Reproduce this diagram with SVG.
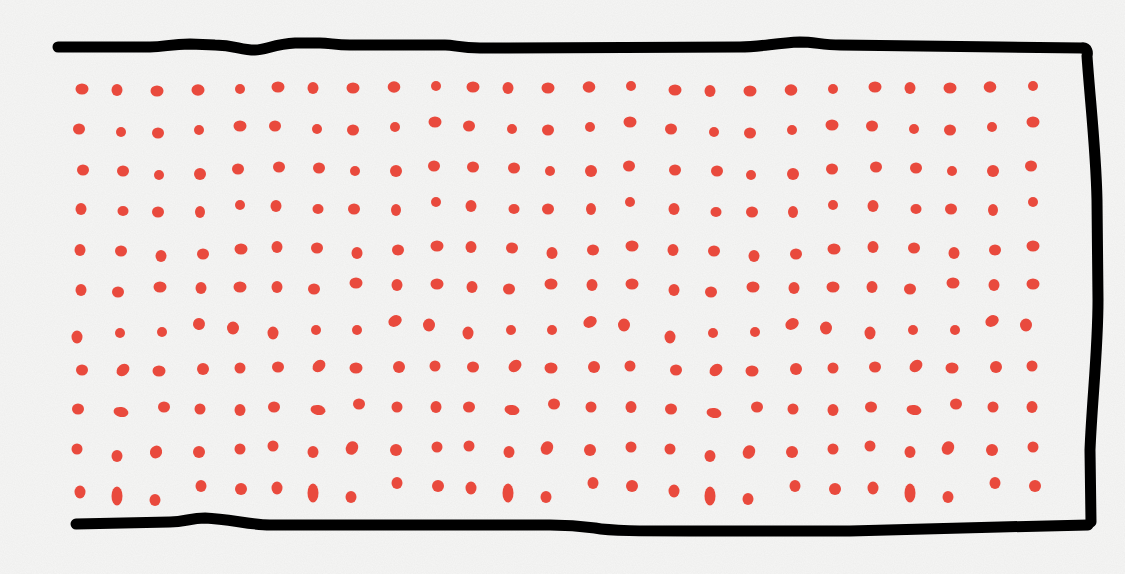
<svg xmlns="http://www.w3.org/2000/svg" width="1125" height="574" viewBox="0 0 1125 574">
<style>
.bg{fill:#f6f6f5}
.ln{fill:none;stroke:#000;stroke-width:11;stroke-linecap:round;stroke-linejoin:round}
.d{fill:#e94a3d}
</style>
<defs>
<filter id="paper" x="0" y="0" width="100%" height="100%">
<feTurbulence type="fractalNoise" baseFrequency="0.9" numOctaves="2" seed="3" result="n"/>
<feColorMatrix type="matrix" values="0 0 0 0 0  0 0 0 0 0  0 0 0 0 0  0 0 0 0.035 0" in="n"/>
</filter>
</defs>
<rect class="bg" width="1125" height="574"/>
<rect width="1125" height="574" filter="url(#paper)"/>
<g id="frame">
<path class="ln" d="M58,47 L150,47 C165,47 170,44 190,44 L215,45 C235,45 240,50 255,50 C265,50 275,44 295,43 L320,43 C330,43 335,45 350,45 L445,45 C455,45 460,48 480,48 L740,47 C760,47 775,43 800,42 C815,42 822,45 840,45 L1000,47 L1083,48"/>
<path class="ln" d="M1083,48 C1087,48 1088,52 1087,56 C1090,100 1096,150 1097,200 L1098,300 C1098,350 1092,400 1090,450 L1091,522"/>
<path class="ln" d="M1088,525 L1000,527 C950,528 900,530 850,531 L690,531 C640,531 610,531 595,528 C580,526 570,525 550,525 L450,525 L270,525 C250,525 230,519 205,518 C190,518 185,522 170,522 L76,524"/>
</g>
<g id="dots">
<ellipse class="d" cx="82" cy="89" rx="6.5" ry="5.5"/><ellipse class="d" cx="117" cy="90" rx="5.5" ry="6"/><ellipse class="d" cx="157" cy="91" rx="6.5" ry="5.5"/><ellipse class="d" cx="198" cy="90" rx="6.5" ry="5.8"/><ellipse class="d" cx="240" cy="89" rx="5" ry="5"/><ellipse class="d" cx="278" cy="87" rx="6.5" ry="5.5"/><ellipse class="d" cx="313" cy="88" rx="5.5" ry="6"/><ellipse class="d" cx="353" cy="88" rx="6.5" ry="5.5"/><ellipse class="d" cx="394" cy="87" rx="6.3" ry="5.8"/><ellipse class="d" cx="436" cy="86" rx="5" ry="5"/><ellipse class="d" cx="473" cy="87" rx="6.5" ry="5.5"/><ellipse class="d" cx="508" cy="88" rx="5.5" ry="6"/><ellipse class="d" cx="548" cy="88" rx="6.5" ry="5.5"/><ellipse class="d" cx="589" cy="87" rx="6.3" ry="5.8"/><ellipse class="d" cx="631" cy="86" rx="5" ry="5"/><ellipse class="d" cx="675" cy="90" rx="6.5" ry="5.5"/><ellipse class="d" cx="710" cy="91" rx="5.5" ry="6"/><ellipse class="d" cx="750" cy="91" rx="6.5" ry="5.5"/><ellipse class="d" cx="791" cy="90" rx="6.3" ry="5.8"/><ellipse class="d" cx="833" cy="89" rx="5" ry="5"/><ellipse class="d" cx="875" cy="87" rx="6.5" ry="5.5"/><ellipse class="d" cx="910" cy="88" rx="5.5" ry="6"/><ellipse class="d" cx="950" cy="88" rx="6.5" ry="5.5"/><ellipse class="d" cx="990" cy="87" rx="6.3" ry="5.8"/><ellipse class="d" cx="1033" cy="86" rx="5" ry="5"/>
<ellipse class="d" cx="79" cy="129" rx="6" ry="5.5"/><ellipse class="d" cx="121" cy="132" rx="5" ry="5"/><ellipse class="d" cx="158" cy="133" rx="6" ry="5.5"/><ellipse class="d" cx="199" cy="130" rx="5" ry="5"/><ellipse class="d" cx="240" cy="126" rx="6.5" ry="5.5"/><ellipse class="d" cx="275" cy="126" rx="6" ry="5.5"/><ellipse class="d" cx="317" cy="129" rx="5" ry="5"/><ellipse class="d" cx="353" cy="130" rx="6" ry="5.5"/><ellipse class="d" cx="395" cy="127" rx="5" ry="5"/><ellipse class="d" cx="435" cy="122" rx="6.5" ry="5.5"/><ellipse class="d" cx="469" cy="126" rx="6" ry="5.5"/><ellipse class="d" cx="512" cy="129" rx="5" ry="5"/><ellipse class="d" cx="548" cy="130" rx="6" ry="5.5"/><ellipse class="d" cx="590" cy="127" rx="5" ry="5"/><ellipse class="d" cx="630" cy="122" rx="6.5" ry="5.5"/><ellipse class="d" cx="671" cy="129" rx="6" ry="5.5"/><ellipse class="d" cx="714" cy="132" rx="5" ry="5"/><ellipse class="d" cx="750" cy="133" rx="6" ry="5.5"/><ellipse class="d" cx="792" cy="130" rx="5" ry="5"/><ellipse class="d" cx="832" cy="125" rx="6.5" ry="5.5"/><ellipse class="d" cx="872" cy="126" rx="6" ry="5.5"/><ellipse class="d" cx="914" cy="129" rx="5" ry="5"/><ellipse class="d" cx="950" cy="130" rx="6" ry="5.5"/><ellipse class="d" cx="992" cy="127" rx="5" ry="5"/><ellipse class="d" cx="1033" cy="122" rx="6.5" ry="5.5"/>
<ellipse class="d" cx="83" cy="170" rx="6" ry="5.5"/><ellipse class="d" cx="123" cy="171" rx="6" ry="5.5"/><ellipse class="d" cx="159" cy="175" rx="5" ry="5"/><ellipse class="d" cx="200" cy="174" rx="6" ry="6"/><ellipse class="d" cx="238" cy="169" rx="6" ry="5.5"/><ellipse class="d" cx="279" cy="167" rx="6" ry="5.5"/><ellipse class="d" cx="319" cy="168" rx="6" ry="5.5"/><ellipse class="d" cx="355" cy="171" rx="5" ry="5"/><ellipse class="d" cx="396" cy="171" rx="6" ry="6"/><ellipse class="d" cx="434" cy="166" rx="6" ry="5.5"/><ellipse class="d" cx="473" cy="167" rx="6" ry="5.5"/><ellipse class="d" cx="514" cy="168" rx="6" ry="5.5"/><ellipse class="d" cx="550" cy="171" rx="5" ry="5"/><ellipse class="d" cx="591" cy="171" rx="6" ry="6"/><ellipse class="d" cx="629" cy="166" rx="6" ry="5.5"/><ellipse class="d" cx="675" cy="170" rx="6" ry="5.5"/><ellipse class="d" cx="717" cy="171" rx="6" ry="5.5"/><ellipse class="d" cx="751" cy="175" rx="5" ry="5"/><ellipse class="d" cx="793" cy="174" rx="6" ry="6"/><ellipse class="d" cx="832" cy="169" rx="6" ry="5.5"/><ellipse class="d" cx="876" cy="167" rx="6" ry="5.5"/><ellipse class="d" cx="916" cy="168" rx="6" ry="5.5"/><ellipse class="d" cx="952" cy="171" rx="5" ry="5"/><ellipse class="d" cx="993" cy="171" rx="6" ry="6"/><ellipse class="d" cx="1031" cy="166" rx="6" ry="5.5"/>
<ellipse class="d" cx="81" cy="209" rx="5.5" ry="6"/><ellipse class="d" cx="123" cy="211" rx="5.5" ry="5"/><ellipse class="d" cx="158" cy="212" rx="6" ry="5.5"/><ellipse class="d" cx="200" cy="212" rx="5" ry="6"/><ellipse class="d" cx="240" cy="205" rx="5" ry="5"/><ellipse class="d" cx="276" cy="206" rx="5.5" ry="6"/><ellipse class="d" cx="318" cy="209" rx="5.5" ry="5"/><ellipse class="d" cx="354" cy="209" rx="6" ry="5.5"/><ellipse class="d" cx="396" cy="210" rx="5" ry="6"/><ellipse class="d" cx="436" cy="202" rx="5" ry="5"/><ellipse class="d" cx="471" cy="206" rx="5.5" ry="6"/><ellipse class="d" cx="514" cy="209" rx="5.5" ry="5"/><ellipse class="d" cx="548" cy="209" rx="6" ry="5.5"/><ellipse class="d" cx="591" cy="209" rx="5" ry="6"/><ellipse class="d" cx="630" cy="202" rx="5" ry="5"/><ellipse class="d" cx="674" cy="209" rx="5.5" ry="6"/><ellipse class="d" cx="716" cy="212" rx="5.5" ry="5"/><ellipse class="d" cx="752" cy="212" rx="6" ry="5.5"/><ellipse class="d" cx="793" cy="212" rx="5" ry="6"/><ellipse class="d" cx="833" cy="205" rx="5" ry="5"/><ellipse class="d" cx="873" cy="206" rx="5.5" ry="6"/><ellipse class="d" cx="916" cy="209" rx="5.5" ry="5"/><ellipse class="d" cx="951" cy="209" rx="6" ry="5.5"/><ellipse class="d" cx="993" cy="210" rx="5" ry="6"/><ellipse class="d" cx="1033" cy="202" rx="5" ry="5"/>
<ellipse class="d" cx="80" cy="250" rx="5.5" ry="6"/><ellipse class="d" cx="121" cy="251" rx="6" ry="5.5"/><ellipse class="d" cx="161" cy="256" rx="5.5" ry="6"/><ellipse class="d" cx="203" cy="254" rx="6" ry="5.5"/><ellipse class="d" cx="241" cy="249" rx="6.5" ry="5.5"/><ellipse class="d" cx="277" cy="247" rx="5.5" ry="6"/><ellipse class="d" cx="317" cy="248" rx="6" ry="5.5"/><ellipse class="d" cx="357" cy="253" rx="5.5" ry="6"/><ellipse class="d" cx="398" cy="250" rx="6" ry="5.5"/><ellipse class="d" cx="437" cy="246" rx="6.5" ry="5.5"/><ellipse class="d" cx="471" cy="247" rx="5.5" ry="6"/><ellipse class="d" cx="512" cy="248" rx="6" ry="5.5"/><ellipse class="d" cx="552" cy="253" rx="5.5" ry="6"/><ellipse class="d" cx="593" cy="250" rx="6" ry="5.5"/><ellipse class="d" cx="632" cy="246" rx="6.5" ry="5.5"/><ellipse class="d" cx="673" cy="250" rx="5.5" ry="6"/><ellipse class="d" cx="714" cy="251" rx="6" ry="5.5"/><ellipse class="d" cx="754" cy="256" rx="5.5" ry="6"/><ellipse class="d" cx="796" cy="254" rx="6" ry="5.5"/><ellipse class="d" cx="834" cy="249" rx="6.5" ry="5.5"/><ellipse class="d" cx="873" cy="247" rx="5.5" ry="6"/><ellipse class="d" cx="914" cy="248" rx="6" ry="5.5"/><ellipse class="d" cx="954" cy="253" rx="5.5" ry="6"/><ellipse class="d" cx="995" cy="250" rx="6" ry="5.5"/><ellipse class="d" cx="1033" cy="246" rx="6.5" ry="5.5"/>
<ellipse class="d" cx="81" cy="290" rx="5.5" ry="6"/><ellipse class="d" cx="118" cy="292" rx="6" ry="5.5"/><ellipse class="d" cx="160" cy="287" rx="6.5" ry="5.5"/><ellipse class="d" cx="201" cy="288" rx="5.5" ry="6"/><ellipse class="d" cx="240" cy="287" rx="6.5" ry="5.5"/><ellipse class="d" cx="277" cy="287" rx="5.5" ry="6"/><ellipse class="d" cx="314" cy="289" rx="6" ry="5.5"/><ellipse class="d" cx="356" cy="283" rx="6.5" ry="5.5"/><ellipse class="d" cx="397" cy="285" rx="5.5" ry="6"/><ellipse class="d" cx="437" cy="284" rx="6.5" ry="5.5"/><ellipse class="d" cx="472" cy="287" rx="5.5" ry="6"/><ellipse class="d" cx="509" cy="289" rx="6" ry="5.5"/><ellipse class="d" cx="551" cy="284" rx="6.5" ry="5.5"/><ellipse class="d" cx="592" cy="285" rx="5.5" ry="6"/><ellipse class="d" cx="632" cy="284" rx="6.5" ry="5.5"/><ellipse class="d" cx="674" cy="290" rx="5.5" ry="6"/><ellipse class="d" cx="711" cy="292" rx="6" ry="5.5"/><ellipse class="d" cx="753" cy="287" rx="6.5" ry="5.5"/><ellipse class="d" cx="794" cy="288" rx="5.5" ry="6"/><ellipse class="d" cx="833" cy="287" rx="6.5" ry="5.5"/><ellipse class="d" cx="872" cy="287" rx="5.5" ry="6"/><ellipse class="d" cx="910" cy="289" rx="6" ry="5.5"/><ellipse class="d" cx="953" cy="283" rx="6.5" ry="5.5"/><ellipse class="d" cx="994" cy="285" rx="5.5" ry="6"/><ellipse class="d" cx="1033" cy="284" rx="6.5" ry="5.5"/>
<ellipse class="d" cx="77" cy="337" rx="5.5" ry="6.5"/><ellipse class="d" cx="120" cy="333" rx="5" ry="5"/><ellipse class="d" cx="162" cy="332" rx="5" ry="5"/><ellipse class="d" cx="199" cy="324" rx="6" ry="6" transform="rotate(-30 199 324)"/><ellipse class="d" cx="233" cy="328" rx="6" ry="6.5"/><ellipse class="d" cx="273" cy="333" rx="5.5" ry="6.5"/><ellipse class="d" cx="316" cy="330" rx="5" ry="5"/><ellipse class="d" cx="357" cy="330" rx="5" ry="5"/><ellipse class="d" cx="395" cy="321" rx="7" ry="5.5" transform="rotate(-30 395 321)"/><ellipse class="d" cx="429" cy="325" rx="6" ry="6.5"/><ellipse class="d" cx="468" cy="333" rx="5.5" ry="6.5"/><ellipse class="d" cx="511" cy="330" rx="5" ry="5"/><ellipse class="d" cx="552" cy="330" rx="5" ry="5"/><ellipse class="d" cx="590" cy="322" rx="7" ry="5.5" transform="rotate(-30 590 322)"/><ellipse class="d" cx="624" cy="325" rx="6" ry="6.5"/><ellipse class="d" cx="670" cy="337" rx="5.5" ry="6.5"/><ellipse class="d" cx="713" cy="333" rx="5" ry="5"/><ellipse class="d" cx="755" cy="332" rx="5" ry="5"/><ellipse class="d" cx="792" cy="324" rx="7" ry="5.5" transform="rotate(-30 792 324)"/><ellipse class="d" cx="826" cy="328" rx="6" ry="6.5"/><ellipse class="d" cx="870" cy="333" rx="5.5" ry="6.5"/><ellipse class="d" cx="913" cy="330" rx="5" ry="5"/><ellipse class="d" cx="955" cy="330" rx="5" ry="5"/><ellipse class="d" cx="992" cy="321" rx="7" ry="5.5" transform="rotate(-30 992 321)"/><ellipse class="d" cx="1026" cy="325" rx="6" ry="6.5"/>
<ellipse class="d" cx="82" cy="370" rx="6" ry="5.5"/><ellipse class="d" cx="123" cy="370" rx="7" ry="5.5" transform="rotate(-40 123 370)"/><ellipse class="d" cx="159" cy="371" rx="6.5" ry="5.5"/><ellipse class="d" cx="203" cy="369" rx="6" ry="6"/><ellipse class="d" cx="240" cy="368" rx="5.5" ry="5.5"/><ellipse class="d" cx="278" cy="367" rx="6" ry="5.5"/><ellipse class="d" cx="319" cy="366" rx="7" ry="5.5" transform="rotate(-40 319 366)"/><ellipse class="d" cx="356" cy="368" rx="6.5" ry="5.5"/><ellipse class="d" cx="399" cy="367" rx="6" ry="6"/><ellipse class="d" cx="435" cy="366" rx="5.5" ry="5.5"/><ellipse class="d" cx="473" cy="367" rx="6" ry="5.5"/><ellipse class="d" cx="515" cy="366" rx="7" ry="5.5" transform="rotate(-40 515 366)"/><ellipse class="d" cx="551" cy="368" rx="6.5" ry="5.5"/><ellipse class="d" cx="594" cy="367" rx="6" ry="6"/><ellipse class="d" cx="630" cy="366" rx="5.5" ry="5.5"/><ellipse class="d" cx="676" cy="370" rx="6" ry="5.5"/><ellipse class="d" cx="716" cy="370" rx="7" ry="5.5" transform="rotate(-40 716 370)"/><ellipse class="d" cx="752" cy="371" rx="6.5" ry="5.5"/><ellipse class="d" cx="796" cy="369" rx="6" ry="6"/><ellipse class="d" cx="833" cy="368" rx="5.5" ry="5.5"/><ellipse class="d" cx="875" cy="367" rx="6" ry="5.5"/><ellipse class="d" cx="916" cy="366" rx="7" ry="5.5" transform="rotate(-40 916 366)"/><ellipse class="d" cx="952" cy="368" rx="6.5" ry="5.5"/><ellipse class="d" cx="996" cy="367" rx="6" ry="6"/><ellipse class="d" cx="1032" cy="366" rx="5.5" ry="5.5"/>
<ellipse class="d" cx="78" cy="409" rx="6" ry="5.5"/><ellipse class="d" cx="121" cy="412" rx="7.5" ry="5" transform="rotate(10 121 412)"/><ellipse class="d" cx="164" cy="407" rx="6" ry="5.5"/><ellipse class="d" cx="200" cy="409" rx="5.5" ry="5.5"/><ellipse class="d" cx="240" cy="410" rx="5.5" ry="6"/><ellipse class="d" cx="274" cy="407" rx="6" ry="5.5"/><ellipse class="d" cx="318" cy="410" rx="7.5" ry="5" transform="rotate(10 318 410)"/><ellipse class="d" cx="359" cy="404" rx="6" ry="5.5"/><ellipse class="d" cx="397" cy="407" rx="5.5" ry="5.5"/><ellipse class="d" cx="436" cy="407" rx="5.5" ry="6"/><ellipse class="d" cx="469" cy="407" rx="6" ry="5.5"/><ellipse class="d" cx="512" cy="410" rx="7.5" ry="5" transform="rotate(10 512 410)"/><ellipse class="d" cx="554" cy="404" rx="6" ry="5.5"/><ellipse class="d" cx="591" cy="407" rx="5.5" ry="5.5"/><ellipse class="d" cx="631" cy="407" rx="5.5" ry="6"/><ellipse class="d" cx="671" cy="409" rx="6" ry="5.5"/><ellipse class="d" cx="714" cy="413" rx="7.5" ry="5" transform="rotate(10 714 413)"/><ellipse class="d" cx="757" cy="407" rx="6" ry="5.5"/><ellipse class="d" cx="793" cy="409" rx="5.5" ry="5.5"/><ellipse class="d" cx="833" cy="410" rx="5.5" ry="6"/><ellipse class="d" cx="871" cy="407" rx="6" ry="5.5"/><ellipse class="d" cx="914" cy="410" rx="7.5" ry="5" transform="rotate(10 914 410)"/><ellipse class="d" cx="956" cy="404" rx="6" ry="5.5"/><ellipse class="d" cx="993" cy="407" rx="5.5" ry="5.5"/><ellipse class="d" cx="1032" cy="407" rx="5.5" ry="6"/>
<ellipse class="d" cx="77" cy="449" rx="5.5" ry="5.5"/><ellipse class="d" cx="117" cy="456" rx="5.5" ry="6"/><ellipse class="d" cx="156" cy="452" rx="6" ry="6.5" transform="rotate(30 156 452)"/><ellipse class="d" cx="199" cy="452" rx="6" ry="6"/><ellipse class="d" cx="240" cy="449" rx="5.5" ry="5.5"/><ellipse class="d" cx="273" cy="446" rx="5.5" ry="5.5"/><ellipse class="d" cx="313" cy="452" rx="5.5" ry="6"/><ellipse class="d" cx="352" cy="448" rx="6" ry="7" transform="rotate(30 352 448)"/><ellipse class="d" cx="396" cy="450" rx="6" ry="6"/><ellipse class="d" cx="437" cy="447" rx="5.5" ry="5.5"/><ellipse class="d" cx="469" cy="446" rx="5.5" ry="5.5"/><ellipse class="d" cx="509" cy="452" rx="5.5" ry="6"/><ellipse class="d" cx="547" cy="448" rx="6" ry="7" transform="rotate(30 547 448)"/><ellipse class="d" cx="590" cy="450" rx="6" ry="6"/><ellipse class="d" cx="631" cy="447" rx="5.5" ry="5.5"/><ellipse class="d" cx="670" cy="449" rx="5.5" ry="5.5"/><ellipse class="d" cx="710" cy="456" rx="5.5" ry="6"/><ellipse class="d" cx="749" cy="452" rx="6" ry="7" transform="rotate(30 749 452)"/><ellipse class="d" cx="792" cy="452" rx="6" ry="6"/><ellipse class="d" cx="833" cy="449" rx="5.5" ry="5.5"/><ellipse class="d" cx="870" cy="446" rx="5.5" ry="5.5"/><ellipse class="d" cx="910" cy="452" rx="5.5" ry="6"/><ellipse class="d" cx="948" cy="448" rx="6" ry="7" transform="rotate(30 948 448)"/><ellipse class="d" cx="992" cy="450" rx="6" ry="6"/><ellipse class="d" cx="1033" cy="447" rx="5.5" ry="5.5"/>
<ellipse class="d" cx="80" cy="492" rx="5.5" ry="6.5"/><ellipse class="d" cx="117" cy="496" rx="5.5" ry="9.5"/><ellipse class="d" cx="155" cy="500" rx="5.5" ry="6"/><ellipse class="d" cx="201" cy="486" rx="5.5" ry="6"/><ellipse class="d" cx="241" cy="489" rx="6" ry="6"/><ellipse class="d" cx="277" cy="488" rx="5.5" ry="6.5"/><ellipse class="d" cx="313" cy="493" rx="5.5" ry="9.5"/><ellipse class="d" cx="351" cy="497" rx="5.5" ry="6"/><ellipse class="d" cx="397" cy="483" rx="5.5" ry="6"/><ellipse class="d" cx="438" cy="486" rx="6" ry="6"/><ellipse class="d" cx="471" cy="488" rx="5.5" ry="6.5"/><ellipse class="d" cx="508" cy="493" rx="5.5" ry="9.5"/><ellipse class="d" cx="546" cy="497" rx="5.5" ry="6"/><ellipse class="d" cx="593" cy="483" rx="5.5" ry="6"/><ellipse class="d" cx="632" cy="486" rx="6" ry="6"/><ellipse class="d" cx="674" cy="491" rx="5.5" ry="6.5"/><ellipse class="d" cx="710" cy="496" rx="5.5" ry="9.5"/><ellipse class="d" cx="748" cy="499" rx="5.5" ry="6"/><ellipse class="d" cx="795" cy="486" rx="5.5" ry="6"/><ellipse class="d" cx="835" cy="489" rx="6" ry="6"/><ellipse class="d" cx="873" cy="488" rx="5.5" ry="6.5"/><ellipse class="d" cx="910" cy="493" rx="5.5" ry="9.5"/><ellipse class="d" cx="948" cy="497" rx="5.5" ry="6"/><ellipse class="d" cx="995" cy="483" rx="5.5" ry="6"/><ellipse class="d" cx="1035" cy="486" rx="6" ry="6"/>
</g>
</svg>
